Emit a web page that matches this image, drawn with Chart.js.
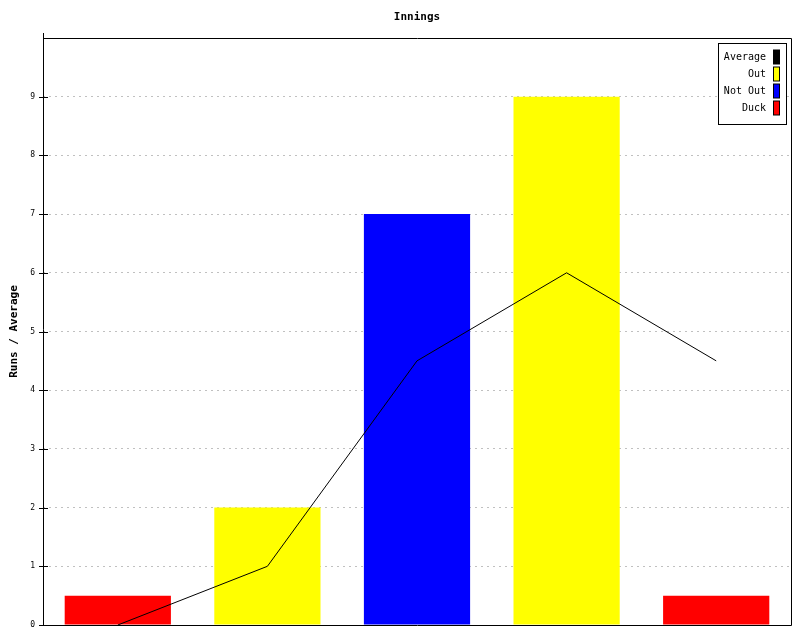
<!DOCTYPE html>
<html lang="en">
<head>
  <meta charset="UTF-8" />
  <title>Innings</title>
  <script src="https://cdn.jsdelivr.net/npm/chart.js"></script>
  <style>
    html, body { margin: 0; padding: 0; background: #fff; }
    #wrap { width: 800px; height: 640px; }
  </style>
</head>
<body>
<div id="wrap"><canvas id="chart" width="800" height="640"></canvas></div>
<script>
  // data
  const innings = ['1', '2', '3', '4', '5'];
  const runs = [0.5, 2, 7, 9, 0.5];
  const status = ['Duck', 'Out', 'Not Out', 'Out', 'Duck'];
  const average = [0, 1, 4.5, 6, 4.5];
  const yTicks = [0, 1, 2, 3, 4, 5, 6, 7, 8, 9];

  const kinds = ['Out', 'Not Out', 'Duck'];
  const kindColors = { 'Out': '#ffff00', 'Not Out': '#0000ff', 'Duck': '#ff0000' };

  const MONO = '"DejaVu Sans Mono", "Liberation Mono", monospace';

  const datasets = [{
    type: 'line',
    label: 'Average',
    data: average,
    borderColor: '#000',
    backgroundColor: '#000',
    borderWidth: 1,
    pointRadius: 0,
    tension: 0,
    order: 0
  }];
  kinds.forEach(k => {
    datasets.push({
      type: 'bar',
      label: k,
      data: runs.map((v, i) => status[i] === k ? v : null),
      backgroundColor: kindColors[k],
      borderWidth: 0,
      barPercentage: 0.71,
      categoryPercentage: 1,
      order: 1
    });
  });

  // title, axis label, frame, tick marks and legend box
  const decor = {
    id: 'decor',
    afterDraw(chart) {
      const ctx = chart.ctx;
      const a = chart.chartArea;
      const y = chart.scales.y;
      ctx.save();

      // frame
      ctx.strokeStyle = '#000';
      ctx.lineWidth = 1;
      ctx.beginPath();
      ctx.moveTo(a.left + 0.5, a.top - 5);
      ctx.lineTo(a.left + 0.5, a.bottom + 0.5);
      ctx.lineTo(a.right + 0.5, a.bottom + 0.5);
      ctx.lineTo(a.right + 0.5, a.top + 0.5);
      ctx.lineTo(a.left + 0.5, a.top + 0.5);
      ctx.stroke();

      // tick marks, crossing the axis
      ctx.beginPath();
      yTicks.forEach(t => {
        const py = Math.round(y.getPixelForValue(t)) + 0.5;
        ctx.moveTo(a.left - 4, py);
        ctx.lineTo(a.left + 5, py);
      });
      ctx.stroke();

      // title
      ctx.fillStyle = '#000';
      ctx.font = 'bold 11px ' + MONO;
      ctx.textAlign = 'center';
      ctx.textBaseline = 'middle';
      ctx.fillText('Innings', (a.left + a.right) / 2, 17);

      // y axis label
      ctx.save();
      ctx.translate(14, (a.top + a.bottom) / 2);
      ctx.rotate(-Math.PI / 2);
      ctx.fillText('Runs / Average', 0, 0);
      ctx.restore();

      // legend
      const bx = 718.5, by = 43.5, bw = 68, bh = 81;
      ctx.fillStyle = '#fff';
      ctx.fillRect(bx, by, bw, bh);
      ctx.strokeRect(bx, by, bw, bh);
      ctx.font = '10px ' + MONO;
      ctx.textAlign = 'right';
      chart.data.datasets.forEach((ds, i) => {
        const cy = 57 + i * 17;
        ctx.fillStyle = '#000';
        ctx.fillText(ds.label, 766, cy);
        ctx.fillStyle = ds.backgroundColor;
        ctx.fillRect(773.5, cy - 7, 6, 14);
        ctx.strokeRect(773.5, cy - 7, 6, 14);
      });

      ctx.restore();
    }
  };

  new Chart(document.getElementById('chart'), {
    data: { labels: innings, datasets: datasets },
    options: {
      responsive: false,
      animation: false,
      layout: { padding: { top: 38, right: 9, bottom: 15, left: 0 } },
      plugins: {
        legend: { display: false },
        title: { display: false },
        tooltip: { enabled: false }
      },
      scales: {
        x: {
          stacked: true,
          offset: true,
          ticks: { display: false },
          grid: { display: false },
          border: { display: false },
          afterFit: s => { s.height = 0; }
        },
        y: {
          min: 0,
          max: 10,
          ticks: {
            stepSize: 1,
            padding: 8,
            color: '#000',
            font: { family: MONO, size: 8 },
            callback: v => yTicks.includes(v) ? String(v) : ''
          },
          grid: {
            color: '#c0c0c0',
            drawTicks: false,
            lineWidth: 1
          },
          border: { display: false, dash: [2, 4] },
          afterFit: s => { s.width = 43; }
        }
      }
    },
    plugins: [decor]
  });
</script>
</body>
</html>
